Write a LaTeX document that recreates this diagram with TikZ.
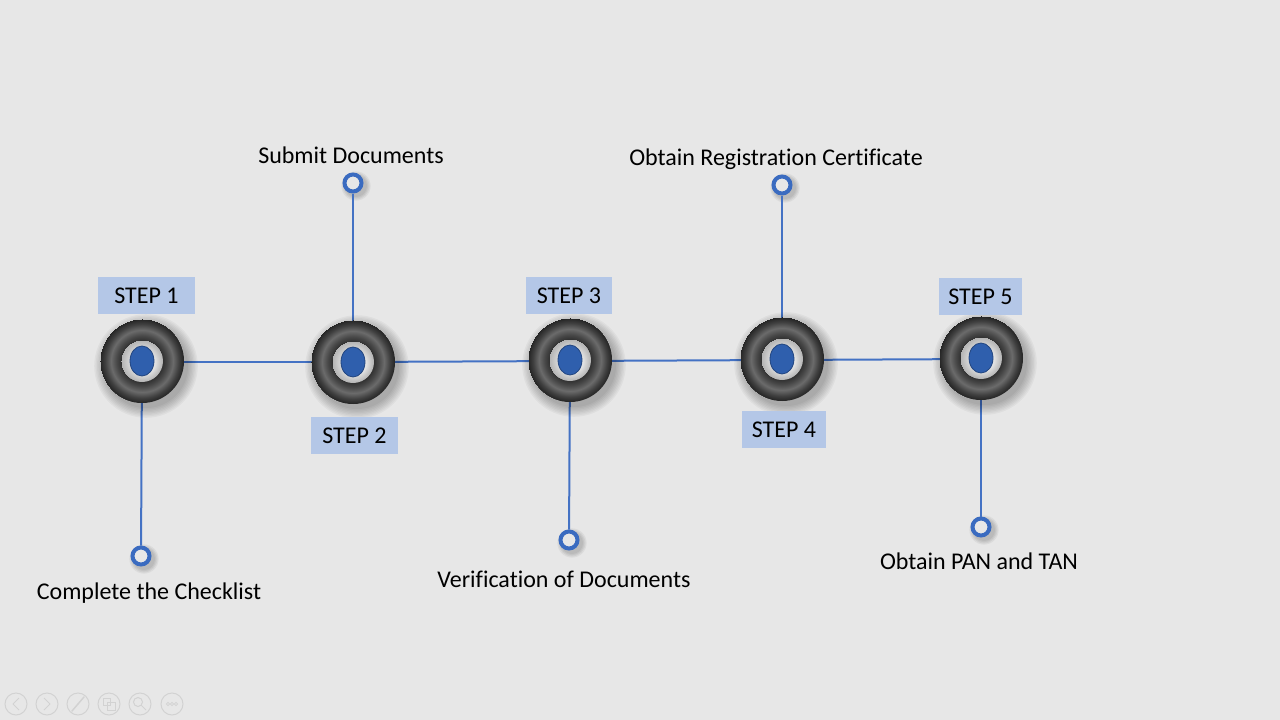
\documentclass[tikz,border=0pt]{standalone}
\usepackage{fontspec}
\setmainfont[Ligatures=NoCommon]{Carlito}
\usetikzlibrary{shapes.geometric}
\definecolor{bg}{HTML}{E7E7E7}
\definecolor{lineblue}{HTML}{4472C4}
\definecolor{ringblue}{HTML}{3A6BC0}
\definecolor{boxblue}{HTML}{B4C7E7}
\definecolor{dotblue}{HTML}{2F5FAD}
\definecolor{dotedge}{HTML}{22457F}
\definecolor{iconc}{HTML}{D2D2D2}
\pgfdeclareradialshading{tireshade}{\pgfpoint{0bp}{0bp}}{color(0bp)=(black!78); color(12.5bp)=(black!80); color(15bp)=(black!72); color(18.5bp)=(black!58); color(22bp)=(black!75); color(25bp)=(black!86)}
\pgfdeclareradialshading{hubshade}{\pgfpoint{4bp}{-3bp}}{color(0bp)=(black!4); color(14bp)=(black!12); color(25bp)=(black!30)}
\tikzset{
  tirebody/.style={circle, minimum size=84pt, inner sep=0pt, shading=tireshade},
  hub/.style={circle, minimum size=42pt, inner sep=0pt, shading=hubshade},
  dot/.style={ellipse, minimum width=24pt, minimum height=30pt, inner sep=0pt, fill=dotblue, draw=dotedge, line width=0.8pt},
  smallring/.style={circle, minimum size=17pt, inner sep=0pt, draw=ringblue, line width=4pt, fill=bg},
  conn/.style={draw=lineblue, line width=2pt},
  stepbox/.style={fill=boxblue, inner sep=0pt, font=\fontsize{24}{28}\selectfont, text=black},
  lbl/.style={font=\fontsize{24}{28}\selectfont, text=black, inner sep=0pt},
  icon/.style={circle, draw=iconc, line width=1pt, minimum size=22pt, inner sep=0pt}
}
\newcommand\mytire[3]{%
  \foreach \k in {0,...,7}{\fill[black,opacity=0.035] (#2+4,#3+5) circle ({42+\k*1.4});}
  \node[tirebody] (#1) at (#2,#3) {};
  \node[hub] (#1h) at (#2,#3) {};
  \node[dot] (#1d) at (#2,#3) {};
}
\newcommand\mysmall[3]{%
  \foreach \k in {0,...,3}{\fill[black,opacity=0.05] (#2+3,#3+3) circle ({11+\k*1.2});}
  \node[smallring] (#1) at (#2,#3) {};
}
\begin{document}
\begin{tikzpicture}[x=1pt,y=-1pt]
\fill[bg] (0,0) rectangle (1280,720);
\useasboundingbox (0,0) rectangle (1280,720);

% small rings (with shadows) first
\mysmall{s1}{141}{556}
\mysmall{s2}{353}{183}
\mysmall{s3}{569}{540}
\mysmall{s4}{782}{185}
\mysmall{s5}{981}{527}

% coordinates for line routing
\coordinate (c1) at (142,362);
\coordinate (c2) at (353,362);
\coordinate (c3) at (570,361);
\coordinate (c4) at (782,360);
\coordinate (c5) at (981,359);

% connectors (behind tires)
\draw[conn] (c1) -- (c2);
\draw[conn] (c2) -- (c3);
\draw[conn] (c3) -- (c4);
\draw[conn] (c4) -- (c5);
\draw[conn] (c1) -- (s1);
\draw[conn] (c2) -- (s2);
\draw[conn] (c3) -- (s3);
\draw[conn] (c4) -- (s4);
\draw[conn] (c5) -- (s5);

% tires
\mytire{r1}{142}{361}
\mytire{r2}{353}{362}
\mytire{r3}{570}{360}
\mytire{r4}{782}{359}
\mytire{r5}{981}{358}

% step boxes
\node[stepbox, minimum width=97pt, minimum height=37pt] (b1) at (146.5,295.5) {STEP 1};
\node[stepbox, minimum width=87pt, minimum height=37pt] (b2) at (354.5,435.5) {STEP 2};
\node[stepbox, minimum width=86pt, minimum height=37pt] (b3) at (569,295.5) {STEP 3};
\node[stepbox, minimum width=84pt, minimum height=37pt] (b4) at (784,429.5) {STEP 4};
\node[stepbox, minimum width=83pt, minimum height=37pt] (b5) at (980.5,296.5) {STEP 5};

% labels
\node[lbl] (t1) at (149,593) {Complete the Checklist};
\node[lbl] (t2) at (351,155) {Submit Documents};
\node[lbl] (t3) at (564,579) {Verification of Documents};
\node[lbl] (t4) at (776,159) {Obtain Registration Certificate};
\node[lbl] (t5) at (979,561) {Obtain PAN and TAN};

% slideshow toolbar icons
\node[icon] (i1) at (16,704) {};
\node[icon] (i2) at (47,704) {};
\node[icon] (i3) at (78,704) {};
\node[icon] (i4) at (109,704) {};
\node[icon] (i5) at (140,704) {};
\node[icon] (i6) at (172,704) {};
\draw[iconc, line width=1pt, line join=round] (19,698) -- (13,704) -- (19,710);
\draw[iconc, line width=1pt, line join=round] (44,698) -- (50,704) -- (44,710);
\draw[iconc, line width=1.5pt, line cap=round] (72,711) -- (84,697);
\draw[iconc, line width=1pt] (103,698) rectangle (110,705) (107,702) rectangle (115,710);
\draw[iconc, line width=1pt] (138,702) circle (4.5pt) (141,705) -- (146,710);
\draw[iconc, line width=0.8pt] (168,704) circle (1.6pt) (172,704) circle (1.6pt) (176,704) circle (1.6pt);
\end{tikzpicture}
\end{document}
